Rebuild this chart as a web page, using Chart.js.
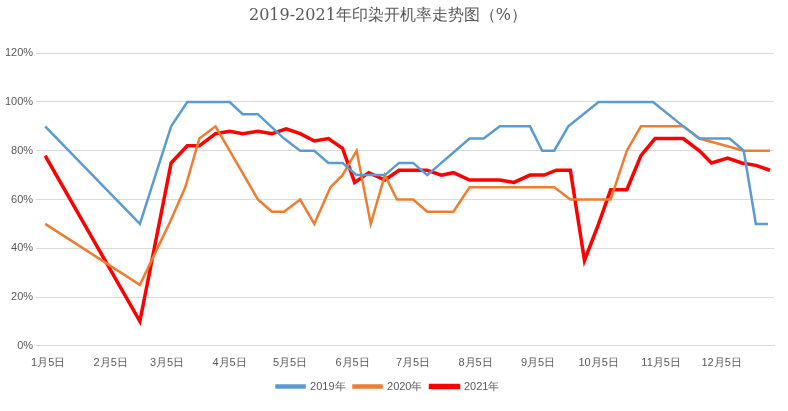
<!DOCTYPE html>
<html><head><meta charset="utf-8">
<script src="https://cdn.jsdelivr.net/npm/chart.js@4"></script>
<style>body{margin:0;background:#fff}#w{width:788px;height:411px}</style>
</head><body><div id="w"><canvas id="c"></canvas></div>
<script>
const tickDays=[0,31,59,90,120,151,181,212,243,273,304,334];
const tickLabels=['1月5日','2月5日','3月5日','4月5日','5月5日','6月5日','7月5日','8月5日','9月5日','10月5日','11月5日','12月5日'];
const d2019=[-1.5,45.5,61,69,90,96.5,104,117,125,132,139,146,153,167,174,181,188,209,216,224,239,245,251,258,273,300,315,323,338,345,351,357];
const v2019=[90,50,90,100,100,95,95,85,80,80,75,75,70,70,75,75,70,85,85,90,90,80,80,90,100,100,90,85,85,80,50,50];
const d2020=[-1.5,45.5,60,68,75,83,90,104,111,117,125,132,140,146,153,160,167,173,181,188,201,209,251,259,279,287,294,315,323,345,358];
const v2020=[50,25,50,65,85,90,80,60,55,55,60,50,65,70,80,50,70,60,60,55,55,65,65,60,60,80,90,90,85,80,80];
const d2021=[-1.5,45.5,61,69,75,83,90,96.5,104,111,118,125,132,139,146,152,159,167,174,188,195,201,209,224,231,239,246,252,259,266,273,279,287,294,301,315,323,329,337,344,351,358];
const v2021=[78,10,75,82,82,87,88,87,88,87,89,87,84,85,81,67,71,68,72,72,70,71,68,68,67,70,70,72,72,35,50,64,64,78,85,85,80,75,77,75,74,72];
const pts=(d,v)=>d.map((x,i)=>({x,y:v[i]}));
new Chart(document.getElementById('c'),{type:'scatter',
data:{datasets:[
{label:'2019年',data:pts(d2019,v2019),borderColor:'#5b9bd5',backgroundColor:'#5b9bd5',borderWidth:2.5,showLine:true,pointRadius:0},
{label:'2020年',data:pts(d2020,v2020),borderColor:'#ed7d31',backgroundColor:'#ed7d31',borderWidth:2.5,showLine:true,pointRadius:0},
{label:'2021年',data:pts(d2021,v2021),borderColor:'#ff0000',backgroundColor:'#ff0000',borderWidth:3.5,showLine:true,pointRadius:0}]},
options:{responsive:true,maintainAspectRatio:false,animation:false,
layout:{padding:{left:2,right:14,top:0,bottom:9}},
plugins:{title:{display:true,text:'2019-2021年印染开机率走势图（%）',color:'#595959',font:{size:16,family:'DejaVu Serif',weight:'normal'},padding:{top:6,bottom:28}},
legend:{position:'bottom',labels:{boxWidth:28,boxHeight:2,color:'#595959',font:{size:11},padding:8}},tooltip:{enabled:false}},
scales:{x:{type:'linear',min:-2,max:360,grid:{display:false},border:{color:'#d9d9d9'},
afterBuildTicks:a=>{a.ticks=tickDays.map(v=>({value:v}));},
ticks:{color:'#595959',font:{size:11},autoSkip:false,maxRotation:0,callback:v=>tickLabels[tickDays.indexOf(v)]}},
y:{min:0,max:120,grid:{color:'#d9d9d9'},border:{display:false},ticks:{stepSize:20,color:'#595959',font:{size:11},callback:v=>v+'%'}}}}});
</script></body></html>
